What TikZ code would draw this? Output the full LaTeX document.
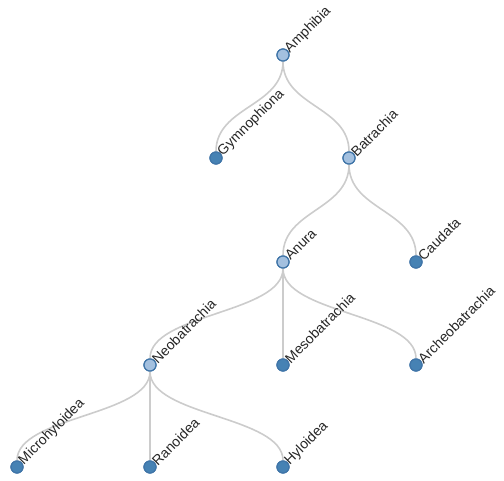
\documentclass[tikz,border=0pt]{standalone}
\usepackage{fontspec}
\setmainfont{Liberation Sans}
\usetikzlibrary{calc}
\definecolor{linkgray}{HTML}{CCCCCC}
\definecolor{nodeedge}{HTML}{4075A8}
\definecolor{innerfill}{HTML}{A3C0DF}
\definecolor{leaffill}{HTML}{4682B4}
\tikzset{
  taxon/.style={circle, draw=nodeedge, line width=1.2pt, minimum size=12pt, inner sep=0pt},
  inner/.style={taxon, fill=innerfill},
  leaf/.style={taxon, fill=leaffill},
  link/.style={draw=linkgray, line width=1.6pt},
  lab/.style={rotate=45, anchor=west, inner xsep=6pt, inner ysep=0pt,
              font=\fontsize{14}{14}\selectfont, text=black!85}
}
% vertical "diagonal" connector between two tree nodes
\newcommand\treelink[2]{%
  \path ($(#1)!.5!(#2)$) coordinate (mid);
  \draw[link] (#1) .. controls (#1 |- mid) and (#2 |- mid) .. (#2);}
\begin{document}
\begin{tikzpicture}[x=1pt, y=-1pt]
  \useasboundingbox (0,0) rectangle (504,480);
  % tree nodes
  \node[inner] (amphibia)  at (283,55)  {};
  \node[leaf]  (gymno)     at (216,158) {};
  \node[inner] (batrachia) at (349,158) {};
  \node[inner] (anura)     at (283,262) {};
  \node[leaf]  (caudata)   at (416,262) {};
  \node[inner] (neo)       at (150,365) {};
  \node[leaf]  (meso)      at (283,365) {};
  \node[leaf]  (archeo)    at (416,365) {};
  \node[leaf]  (micro)     at (17,467)  {};
  \node[leaf]  (rano)      at (150,467) {};
  \node[leaf]  (hylo)      at (283,467) {};
  % connectors
  \treelink{amphibia}{gymno}
  \treelink{amphibia}{batrachia}
  \treelink{batrachia}{anura}
  \treelink{batrachia}{caudata}
  \treelink{anura}{neo}
  \treelink{anura}{meso}
  \treelink{anura}{archeo}
  \treelink{neo}{micro}
  \treelink{neo}{rano}
  \treelink{neo}{hylo}
  % redraw the circles over the connectors
  \foreach \n/\s in {amphibia/inner, gymno/leaf, batrachia/inner, anura/inner,
                     caudata/leaf, neo/inner, meso/leaf, archeo/leaf,
                     micro/leaf, rano/leaf, hylo/leaf}
    \node[\s] at (\n) {};
  % labels
  \node[lab] (l-amphibia)  at (amphibia)  {Amphibia};
  \node[lab] (l-gymno)     at (gymno)     {Gymnophiona};
  \node[lab] (l-batrachia) at (batrachia) {Batrachia};
  \node[lab] (l-anura)     at (anura)     {Anura};
  \node[lab] (l-caudata)   at (caudata)   {Caudata};
  \node[lab] (l-neo)       at (neo)       {Neobatrachia};
  \node[lab] (l-meso)      at (meso)      {Mesobatrachia};
  \node[lab] (l-archeo)    at (archeo)    {Archeobatrachia};
  \node[lab] (l-micro)     at (micro)     {Microhyloidea};
  \node[lab] (l-rano)      at (rano)      {Ranoidea};
  \node[lab] (l-hylo)      at (hylo)      {Hyloidea};
\end{tikzpicture}
\end{document}
